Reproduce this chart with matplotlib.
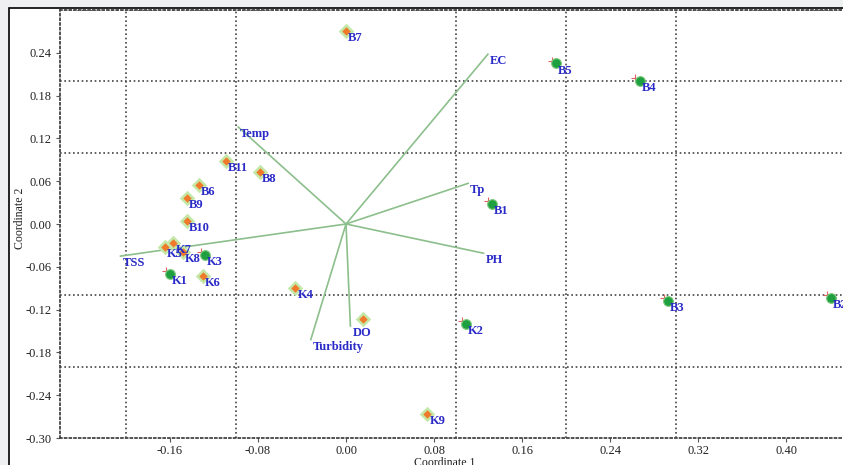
# -*- coding:utf-8 -*-
"""
PCA biplot: sites (Coordinate 1 / Coordinate 2) with parameter vectors
"""
from matplotlib import pyplot as plt
from matplotlib.patches import Rectangle
from matplotlib.ticker import MultipleLocator, FixedLocator
import numpy as np

# sites drawn as orange diamonds
orange_names = ['B7', 'B11', 'B8', 'B6', 'B9', 'B10', 'K7', 'K5', 'K8', 'K6', 'K4', '', 'K9']
orange_x = [0.000, -0.109, -0.078, -0.134, -0.145, -0.145, -0.157, -0.165, -0.148, -0.130, -0.046, 0.015, 0.074]
orange_y = [0.271, 0.088, 0.073, 0.055, 0.036, 0.004, -0.027, -0.032, -0.039, -0.073, -0.090, -0.133, -0.267]

# sites drawn as green dots
green_names = ['B5', 'B4', 'B1', 'K3', 'K1', 'K2', 'B3', 'B2']
green_x = [0.191, 0.267, 0.133, -0.128, -0.160, 0.109, 0.293, 0.441]
green_y = [0.225, 0.201, 0.028, -0.043, -0.070, -0.140, -0.108, -0.104]

# parameter vectors (loadings)
var_names = ['EC', 'Tp', 'PH', 'Temp', 'TSS', 'Turbidity', 'DO']
var_x = [0.129, 0.111, 0.125, -0.098, -0.205, -0.032, 0.004]
var_y = [0.238, 0.057, -0.041, 0.136, -0.045, -0.162, -0.143]

xticks = [-0.16, -0.08, 0.00, 0.08, 0.16, 0.24, 0.32, 0.40]
yticks = [-0.30, -0.24, -0.18, -0.12, -0.06, 0.00, 0.06, 0.12, 0.18, 0.24]

plt.rcParams['font.family'] = ['Liberation Serif', 'DejaVu Serif']

W, H = 843, 465
fig = plt.figure(figsize=(W / 100, H / 100), dpi=100)
fig.patch.set_facecolor('#eef0f2')

# white panel with black frame (cropped on right/bottom), behind the axes
fig.add_artist(Rectangle((9 / W, -0.1), 1.2, 1 - 8 / H + 0.1, transform=fig.transFigure,
                         facecolor='white', edgecolor='black', linewidth=1.2, zorder=-5))

x0, x1 = -0.26, 0.46
ax = fig.add_axes([60 / W, (H - 438) / H, (x1 - x0) * 1100 / W, 428 / H])
ax.set_xlim(x0, x1)
ax.set_ylim(-0.30, 0.30)
ax.patch.set_alpha(0)

dots = (0, (1, 1.6))
for s in ax.spines.values():
    s.set_linestyle(dots)
    s.set_color('#444444')
    s.set_linewidth(1.3)
ax.spines['right'].set_visible(False)

ax.xaxis.set_major_locator(FixedLocator(xticks))
ax.yaxis.set_major_locator(FixedLocator(yticks))
ax.set_xticklabels(['%.2f' % v for v in xticks])
ax.set_yticklabels(['%.2f' % v for v in yticks])
ax.xaxis.set_minor_locator(MultipleLocator(0.1))
ax.yaxis.set_minor_locator(MultipleLocator(0.1))
ax.tick_params(which='major', length=3, width=0.8, color='#555555', labelsize=9,
               labelcolor='#222222')
ax.tick_params(axis='x', pad=2)
ax.tick_params(axis='y', pad=3)
ax.tick_params(which='minor', length=0)
ax.grid(which='minor', linestyle=dots, color='#444444', linewidth=1.2)

lab_kw = dict(textcoords='offset pixels', ha='left', va='center', color='#2a2ac8',
              fontsize=9, fontweight='bold', zorder=5)

# vectors
for n, vx, vy in zip(var_names, var_x, var_y):
    ax.plot([0, vx], [0, vy], color='#8cbf8c', linewidth=1.2, zorder=2)
    ax.annotate(n, (vx, vy), xytext=(2, -7), **lab_kw)

# points
ax.plot(orange_x, orange_y, linestyle='none', marker='D', markersize=6,
        markerfacecolor='#f07a2a', markeredgecolor='#c4e8a8', markeredgewidth=1.8, zorder=3)
ax.plot(np.array(green_x) - 0.004, np.array(green_y) + 0.004, linestyle='none', marker='+',
        markersize=6, color='#e06060', markeredgewidth=0.8, zorder=3)
ax.plot(green_x, green_y, linestyle='none', marker='o', markersize=7,
        markerfacecolor='#1fa040', markeredgecolor='#7cc87c', markeredgewidth=0.8, zorder=4)

for n, px, py in zip(orange_names + green_names, orange_x + green_x, orange_y + green_y):
    ax.annotate(n, (px, py), xytext=(2, -7), **lab_kw)

fig.text(445 / W, 1 - 463 / H, 'Coordinate 1', ha='center', va='center', fontsize=8.5, color='#222222')
fig.text(20 / W, 1 - 218 / H, 'Coordinate 2', ha='center', va='center', rotation=90,
         fontsize=8.5, color='#222222')

plt.savefig('out.png', dpi=100, facecolor=fig.get_facecolor())
